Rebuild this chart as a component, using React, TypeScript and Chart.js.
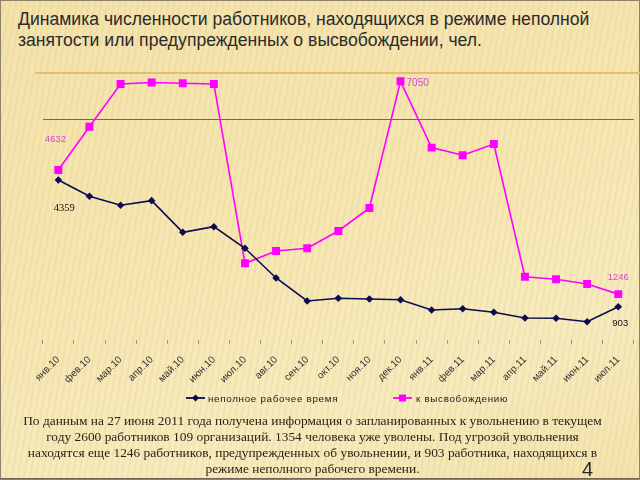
import React, { useEffect, useRef } from "react";
import { Chart, registerables } from "chart.js";

Chart.register(...registerables);

const titleLines = [
  "Динамика численности работников, находящихся в режиме неполной",
  "занятости или предупрежденных о высвобождении, чел.",
];

const months = [
  "янв.10", "фев.10", "мар.10", "апр.10", "май.10", "июн.10", "июл.10",
  "авг.10", "сен.10", "окт.10", "ноя.10", "дек.10", "янв.11", "фев.11",
  "мар.11", "апр.11", "май.11", "июн.11", "июл.11",
];

const partTimeLabel = "неполное рабочее время";
const partTime = [
  4359, 3915, 3669, 3795, 2933, 3085, 2496, 1686, 1058, 1132, 1113, 1094,
  813, 848, 750, 595, 587, 494, 903,
];

const releaseLabel = "к высвобождению";
const release = [
  4632, 5813, 6978, 7020, 6997, 6978, 2087, 2422, 2496, 2968, 3596, 7050,
  5241, 5033, 5341, 1721, 1650, 1522, 1246,
];

const gridValues = [6000];

const noteLines = [
  "По данным на 27 июня 2011 года получена информация о запланированных к увольнению в текущем",
  "году 2600 работников 109 организаций. 1354 человека уже уволены. Под угрозой увольнения",
  "находятся еще 1246 работников, предупрежденных об увольнении, и 903 работника, находящихся в",
  "режиме неполного рабочего времени.",
];

const slideNumber = "4";

// which points carry a value label: [datasetIndex, pointIndex, dx, dy, align, font, color]
const valueLabels: [number, number, number, number, CanvasTextAlign, string, string][] = [
  [1, 0, -3, -31, "center", "9.5px 'Liberation Sans', Arial, sans-serif", "#d04ccd"],
  [0, 0, 6, 28, "center", "10.5px 'Liberation Serif', serif", "#111111"],
  [1, 11, 6, 1.5, "left", "10px 'Liberation Sans', Arial, sans-serif", "#d04ccd"],
  [1, 18, 0, -17, "center", "9.5px 'Liberation Sans', Arial, sans-serif", "#d04ccd"],
  [0, 18, 2, 17, "center", "9.5px 'Liberation Sans', Arial, sans-serif", "#111111"],
];

const NAVY = "#0b0b4f";
const MAGENTA = "#ff00ff";

const labelPlugin = {
  id: "valueLabels",
  afterDatasetsDraw(chart: any) {
    const ctx = chart.ctx;
    ctx.save();
    ctx.textBaseline = "middle";
    for (const [ds, idx, dx, dy, align, font, color] of valueLabels) {
      const el = chart.getDatasetMeta(ds).data[idx];
      if (!el) continue;
      const value = chart.data.datasets[ds].data[idx];
      ctx.font = font;
      ctx.fillStyle = color;
      ctx.textAlign = align;
      ctx.fillText(String(value), el.x + dx, el.y + dy);
    }
    ctx.restore();
  },
};

function ChartCanvas() {
  const ref = useRef<HTMLCanvasElement | null>(null);
  useEffect(() => {
    if (!ref.current) return;
    const chart = new Chart(ref.current, {
      type: "line",
      data: {
        labels: months,
        datasets: [
          {
            label: partTimeLabel,
            data: partTime,
            borderColor: NAVY,
            backgroundColor: NAVY,
            borderWidth: 1.6,
            pointStyle: "rectRot",
            pointRadius: 3.8,
            pointBorderWidth: 0,
            tension: 0,
          },
          {
            label: releaseLabel,
            data: release,
            borderColor: MAGENTA,
            backgroundColor: MAGENTA,
            borderWidth: 1.6,
            pointStyle: "rect",
            pointRadius: 5.6,
            pointBorderWidth: 0,
            tension: 0,
          },
        ],
      },
      options: {
        animation: false,
        responsive: false,
        layout: { padding: { left: 42.8, right: 6.2, top: 46.5, bottom: 80.2 } },
        plugins: {
          legend: { display: false },
          tooltip: { enabled: false },
        },
        scales: {
          x: {
            offset: true,
            grid: {
              offset: true,
              drawOnChartArea: false,
              drawTicks: true,
              tickLength: 4,
              color: "rgba(90,80,60,0.55)",
            },
            border: { display: false },
            ticks: {
              minRotation: 45,
              maxRotation: 45,
              autoSkip: false,
              padding: 10,
              color: "#333333",
              font: { family: "'Liberation Sans', Arial, sans-serif", size: 10 },
            },
            afterFit: (scale: any) => {
              scale.height = 60;
            },
          },
          y: {
            display: true,
            min: 0,
            max: 8000,
            border: { display: false },
            ticks: { display: false, stepSize: 2000 },
            grid: {
              drawTicks: false,
              lineWidth: 1,
              color: (c: any) =>
                c.tick && gridValues.includes(c.tick.value) ? "#6e6a5e" : "rgba(0,0,0,0)",
            },
          },
        },
      },
      plugins: [labelPlugin],
    });
    return () => chart.destroy();
  }, []);
  return (
    <canvas
      ref={ref}
      width={640}
      height={480}
      style={{ position: "absolute", left: 0, top: 0, width: 640, height: 480 }}
    />
  );
}

export default function App() {
  return (
    <div
      style={{
        position: "fixed",
        left: 0,
        top: 0,
        width: 640,
        height: 480,
        overflow: "hidden",
        background:
          "repeating-linear-gradient(100deg, rgba(255,255,255,0) 0px, rgba(255,255,255,0) 3px, rgba(214,186,110,0.22) 4px, rgba(255,255,255,0) 6px), linear-gradient(160deg, #f4e2ab 0%, #f6e6b2 45%, #f7ebbe 75%, #f3e3ad 100%)",
        boxShadow: "inset 0 0 0 1px #8c8270, inset 0 -2px 0 0 #6d6455",
      }}
    >
      <div
        style={{
          position: "absolute",
          left: 18,
          top: 9,
          fontFamily: "'Liberation Sans', Arial, sans-serif",
          fontSize: 17.6,
          lineHeight: "21px",
          color: "#2b2b2b",
          whiteSpace: "nowrap",
        }}
      >
        {titleLines.map((t, i) => (
          <div key={i}>{t}</div>
        ))}
      </div>
      <div
        style={{
          position: "absolute",
          left: 35,
          top: 72,
          width: 605,
          height: 1.5,
          background: "#e3bf73",
        }}
      />
      <ChartCanvas />
      <div
        style={{
          position: "absolute",
          top: 391,
          left: 0,
          width: 640,
          height: 14,
          fontFamily: "'Liberation Sans', Arial, sans-serif",
          fontSize: 9.8,
          letterSpacing: 0.7,
          color: "#222",
        }}
      >
        <div style={{ position: "absolute", left: 186, top: 0, display: "flex", alignItems: "center", height: 14 }}>
          <svg width={19} height={10} style={{ marginRight: 3 }}>
            <line x1={0} y1={5} x2={19} y2={5} stroke={NAVY} strokeWidth={1.8} />
            <polygon points="9.5,1.5 13,5 9.5,8.5 6,5" fill={NAVY} />
          </svg>
          <span>{partTimeLabel}</span>
        </div>
        <div style={{ position: "absolute", left: 393, top: 0, display: "flex", alignItems: "center", height: 14 }}>
          <svg width={19} height={10} style={{ marginRight: 4 }}>
            <line x1={0} y1={5} x2={19} y2={5} stroke={MAGENTA} strokeWidth={1.8} />
            <rect x={6} y={1.5} width={7} height={7} fill={MAGENTA} />
          </svg>
          <span>{releaseLabel}</span>
        </div>
      </div>
      <div
        style={{
          position: "absolute",
          top: 413,
          left: 0,
          width: 625,
          textAlign: "center",
          fontFamily: "'Liberation Serif', 'Times New Roman', serif",
          fontSize: 13.4,
          lineHeight: "16px",
          color: "#2a2418",
          whiteSpace: "nowrap",
        }}
      >
        {noteLines.map((t, i) => (
          <div key={i}>{t}</div>
        ))}
      </div>
      <div
        style={{
          position: "absolute",
          left: 582,
          top: 459,
          fontFamily: "'Liberation Sans', Arial, sans-serif",
          fontSize: 20,
          lineHeight: "20px",
          color: "#2a2a2a",
        }}
      >
        {slideNumber}
      </div>
    </div>
  );
}
